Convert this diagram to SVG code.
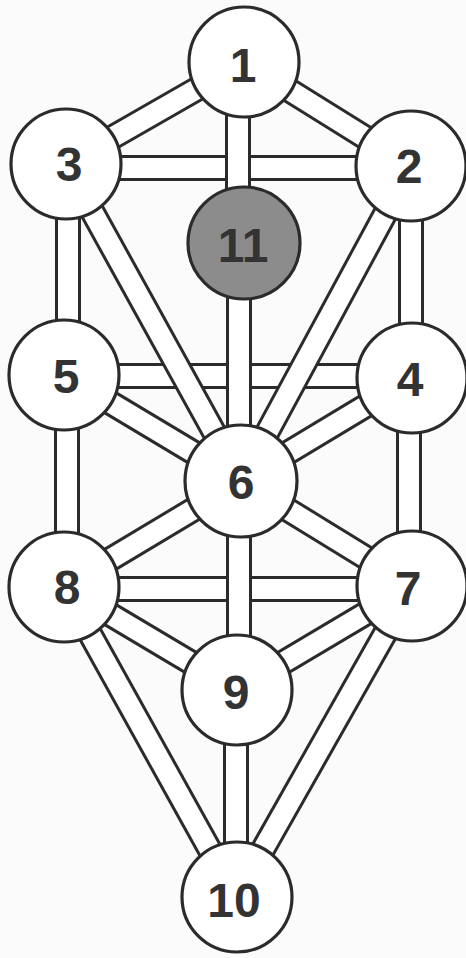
<svg xmlns="http://www.w3.org/2000/svg" width="466" height="958" viewBox="0 0 466 958">
<style>
.o{stroke:#2b2b2b;stroke-width:26;stroke-linecap:butt}
.i{stroke:#ffffff;stroke-width:20;stroke-linecap:butt}
.n{fill:#ffffff;stroke:#2b2b2b;stroke-width:3.2}
.d{fill:#8c8c8c;stroke:#2b2b2b;stroke-width:3.2}
.t{font-family:"Liberation Sans",Arial,sans-serif;font-weight:bold;font-size:48px;fill:#333333;text-anchor:middle}
</style>
<rect width="466" height="958" fill="#fbfbfb"/>
<g id="connectors">
<line class="o" x1="66" y1="168" x2="411" y2="168"/><line class="i" x1="66" y1="168" x2="411" y2="168"/>
<line class="o" x1="64" y1="376" x2="412" y2="376"/><line class="i" x1="64" y1="376" x2="412" y2="376"/>
<line class="o" x1="63" y1="589" x2="412" y2="589"/><line class="i" x1="63" y1="589" x2="412" y2="589"/>
<line class="o" x1="68" y1="164" x2="68" y2="375"/><line class="i" x1="68" y1="164" x2="68" y2="375"/>
<line class="o" x1="67" y1="375" x2="67" y2="588"/><line class="i" x1="67" y1="375" x2="67" y2="588"/>
<line class="o" x1="411" y1="166" x2="411" y2="378"/><line class="i" x1="411" y1="166" x2="411" y2="378"/>
<line class="o" x1="409" y1="378" x2="409" y2="586"/><line class="i" x1="409" y1="378" x2="409" y2="586"/>
<line class="o" x1="244" y1="62" x2="66" y2="164"/><line class="i" x1="244" y1="62" x2="66" y2="164"/>
<line class="o" x1="244" y1="62" x2="411" y2="166"/><line class="i" x1="244" y1="62" x2="411" y2="166"/>
<line class="o" x1="238" y1="62" x2="238" y2="243"/><line class="i" x1="238" y1="62" x2="238" y2="243"/>
<line class="o" x1="239" y1="243" x2="239" y2="482"/><line class="i" x1="239" y1="243" x2="239" y2="482"/>
<line class="o" x1="239" y1="482" x2="239" y2="690"/><line class="i" x1="239" y1="482" x2="239" y2="690"/>
<line class="o" x1="236" y1="690" x2="236" y2="898"/><line class="i" x1="236" y1="690" x2="236" y2="898"/>
<line class="o" x1="66" y1="164" x2="241" y2="481"/><line class="i" x1="66" y1="164" x2="241" y2="481"/>
<line class="o" x1="411" y1="166" x2="241" y2="481"/><line class="i" x1="411" y1="166" x2="241" y2="481"/>
<line class="o" x1="64" y1="375" x2="241" y2="481"/><line class="i" x1="64" y1="375" x2="241" y2="481"/>
<line class="o" x1="412" y1="378" x2="241" y2="481"/><line class="i" x1="412" y1="378" x2="241" y2="481"/>
<line class="o" x1="64" y1="587" x2="241" y2="481"/><line class="i" x1="64" y1="587" x2="241" y2="481"/>
<line class="o" x1="412" y1="586" x2="241" y2="481"/><line class="i" x1="412" y1="586" x2="241" y2="481"/>
<line class="o" x1="64" y1="587" x2="236" y2="897"/><line class="i" x1="64" y1="587" x2="236" y2="897"/>
<line class="o" x1="412" y1="586" x2="236" y2="897"/><line class="i" x1="412" y1="586" x2="236" y2="897"/>
<line class="o" x1="64" y1="587" x2="237" y2="690"/><line class="i" x1="64" y1="587" x2="237" y2="690"/>
<line class="o" x1="412" y1="586" x2="237" y2="690"/><line class="i" x1="412" y1="586" x2="237" y2="690"/>
</g>
<g id="n1"><circle class="n" cx="244" cy="62" r="55"/><text class="t" x="243" y="82">1</text></g>
<g id="n2"><circle class="n" cx="411" cy="166" r="55"/><text class="t" x="409" y="183">2</text></g>
<g id="n3"><circle class="n" cx="66" cy="164" r="55"/><text class="t" x="69" y="181">3</text></g>
<g id="n11"><circle class="d" cx="244" cy="243" r="56"/><text class="t" x="243" y="262">11</text></g>
<g id="n4"><circle class="n" cx="412" cy="378" r="55"/><text class="t" x="410" y="396">4</text></g>
<g id="n5"><circle class="n" cx="64" cy="375" r="55"/><text class="t" x="66" y="393">5</text></g>
<g id="n6"><circle class="n" cx="241" cy="481" r="56"/><text class="t" x="241" y="499">6</text></g>
<g id="n7"><circle class="n" cx="412" cy="586" r="55"/><text class="t" x="408" y="605">7</text></g>
<g id="n8"><circle class="n" cx="64" cy="587" r="55"/><text class="t" x="67" y="604">8</text></g>
<g id="n9"><circle class="n" cx="237" cy="690" r="55"/><text class="t" x="236" y="709">9</text></g>
<g id="n10"><circle class="n" cx="237" cy="897" r="55"/><text class="t" x="234" y="917">10</text></g>
</svg>
